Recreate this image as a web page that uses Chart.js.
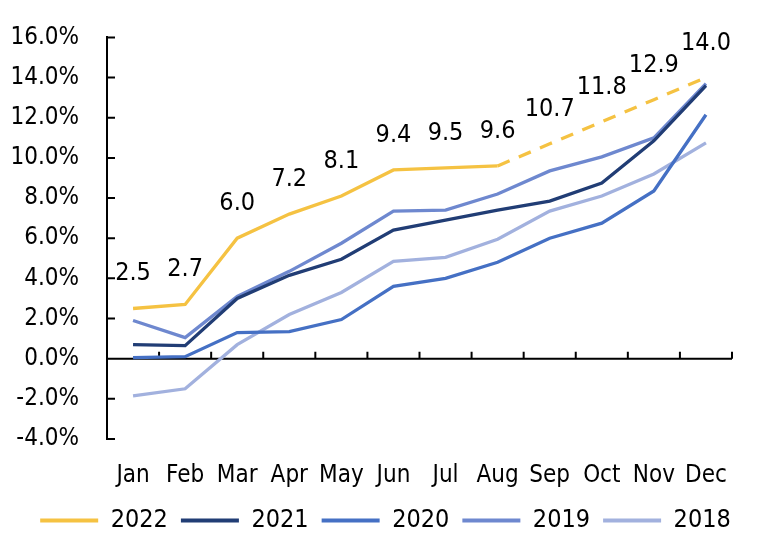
<!DOCTYPE html>
<html>
<head>
<meta charset="utf-8">
<script src="https://cdn.jsdelivr.net/npm/chart.js@4"></script>
<style>
html,body{margin:0;padding:0;background:#fff;}
#wrap{width:765px;height:547px;}
</style>
</head>
<body>
<div id="wrap"><canvas id="c" width="765" height="547"></canvas></div>
<script>
const months = ["Jan","Feb","Mar","Apr","May","Jun","Jul","Aug","Sep","Oct","Nov","Dec"];
const seriesNames = ["2022","2021","2020","2019","2018"];
const y2022 = [2.5, 2.7, 6.0, 7.2, 8.1, 9.4, 9.5, 9.6, 10.7, 11.8, 12.9, 14.0];
const y2021 = [0.7, 0.65, 3.0, 4.15, 4.95, 6.4, 6.9, 7.4, 7.85, 8.75, 10.85, 13.6];
const y2020 = [0.05, 0.1, 1.3, 1.35, 1.95, 3.6, 4.0, 4.8, 6.0, 6.75, 8.35, 12.15];
const y2019 = [1.9, 1.05, 3.1, 4.35, 5.75, 7.35, 7.4, 8.2, 9.35, 10.05, 11.0, 13.7];
const y2018 = [-1.85, -1.5, 0.7, 2.2, 3.3, 4.85, 5.05, 5.95, 7.35, 8.1, 9.2, 10.75];
const forecastStartIndex = 7; // 2022 dashed from Aug onward
const yTickValues = [-4, -2, 0, 2, 4, 6, 8, 10, 12, 14, 16];

const FONT = '"DejaVu Sans Condensed", "DejaVu Sans", sans-serif';
const colors = ["#F5C242", "#213D75", "#4570C4", "#6E88CF", "#A2B1DE"];
const seriesData = [y2022, y2021, y2020, y2019, y2018];

const axisPlugin = {
  id: 'axisDecor',
  afterLayout(chart) {
    const lg = chart.legend;
    if (lg) { lg.left -= 3; lg.right -= 3; }
  },
  beforeDatasetsDraw(chart) {
    const ctx = chart.ctx;
    const xs = chart.scales.x, ys = chart.scales.y;
    const area = chart.chartArea;
    const y0 = ys.getPixelForValue(0);
    ctx.save();
    ctx.strokeStyle = '#000';
    ctx.lineWidth = 2;
    ctx.beginPath();
    ctx.moveTo(area.left, y0);
    ctx.lineTo(area.right, y0);
    for (let k = 1; k <= months.length; k++) {
      const x = xs.getPixelForValue(k - 0.5);
      ctx.moveTo(x, y0);
      ctx.lineTo(x, y0 - 7);
    }
    yTickValues.forEach(v => {
      const y = ys.getPixelForValue(v);
      ctx.moveTo(area.left, y);
      ctx.lineTo(area.left + 8, y);
    });
    ctx.stroke();
    ctx.restore();
  },
  afterDatasetsDraw(chart) {
    const ctx = chart.ctx;
    const meta = chart.getDatasetMeta(0);
    ctx.save();
    ctx.font = '25px ' + FONT;
    ctx.fillStyle = '#000';
    ctx.textAlign = 'center';
    ctx.textBaseline = 'alphabetic';
    meta.data.forEach((pt, i) => {
      ctx.fillText(y2022[i].toFixed(1), pt.x, pt.y - 28);
    });
    ctx.restore();
  }
};

const datasets = seriesNames.map((name, i) => {
  const ds = {
    label: name,
    data: seriesData[i],
    borderColor: colors[i],
    backgroundColor: colors[i],
    borderWidth: 3.3,
    pointRadius: 0,
    pointHoverRadius: 0,
    tension: 0,
    fill: false,
    yAxisID: 'y'
  };
  if (i === 0) {
    ds.segment = {
      borderDash: c => c.p0DataIndex >= forecastStartIndex ? [13, 10] : undefined
    };
  }
  return ds;
});

new Chart(document.getElementById('c'), {
  type: 'line',
  data: { labels: months, datasets: datasets },
  options: {
    responsive: false,
    animation: false,
    devicePixelRatio: 1,
    layout: { padding: { left: 12, right: 0, top: 10, bottom: 4 } },
    plugins: {
      legend: {
        position: 'bottom',
        labels: {
          font: { family: FONT, size: 25 },
          color: '#000',
          boxWidth: 58,
          boxHeight: 4,
          padding: 13,
          generateLabels(chart) {
            const items = Chart.defaults.plugins.legend.labels.generateLabels(chart);
            items.forEach(it => { it.lineWidth = 0; });
            return items;
          }
        }
      },
      tooltip: { enabled: false }
    },
    scales: {
      x: {
        offset: true,
        grid: { display: false, offset: true, drawTicks: false },
        border: { display: false },
        ticks: { font: { family: FONT, size: 24 }, color: '#000', padding: 22, maxRotation: 0, minRotation: 0, autoSkip: false },
        afterFit(scale) { scale.height = 56; }
      },
      y: {
        min: -4, max: 16,
        grid: { display: false, drawTicks: true, tickLength: 5 },
        border: { display: true, color: '#000', width: 2 },
        ticks: {
          stepSize: 2,
          font: { family: FONT, size: 24 },
          color: '#000',
          padding: 23,
          callback: v => v.toFixed(1) + '%'
        },
        afterFit(scale) { scale.width = 95; }
      },
      yRightSpace: {
        position: 'right',
        display: true,
        grid: { display: false, drawTicks: false },
        border: { display: false },
        ticks: { display: false },
        afterFit(scale) { scale.width = 33; }
      }
    }
  },
  plugins: [axisPlugin]
});
</script>
</body>
</html>
